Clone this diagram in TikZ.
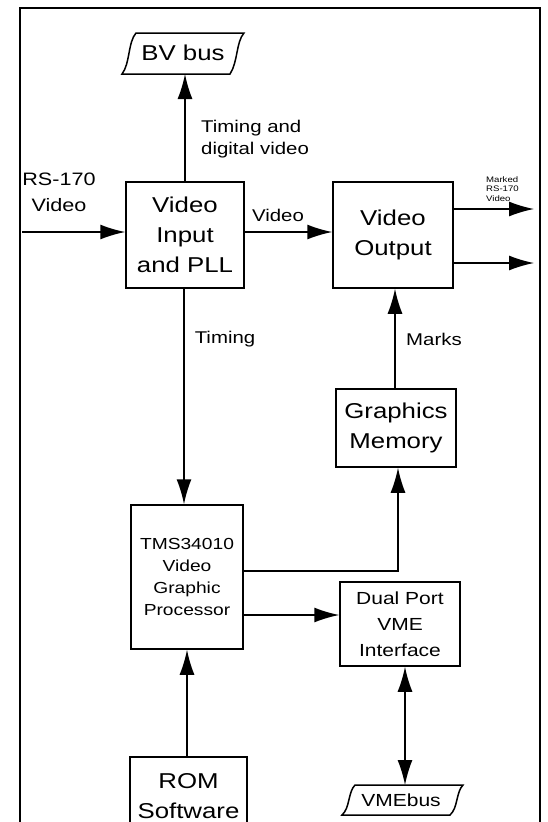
\documentclass[tikz,border=0pt]{standalone}
\usepackage{fontspec}
\setmainfont[FakeStretch=1.2]{Liberation Sans}
\usetikzlibrary{arrows.meta}

\tikzset{
  block/.style={draw, line width=1.5pt, align=center, inner sep=0pt},
  bigtxt/.style={font=\fontsize{21.5}{30}\selectfont},
  midtxt/.style={font=\fontsize{17.5}{27}\selectfont},
  smalltxt/.style={font=\fontsize{16}{22}\selectfont},
  lbl/.style={font=\fontsize{17}{22}\selectfont, align=left, inner sep=0pt},
  tip/.tip={Latex[length=25pt,width=15pt]},
  conn/.style={line width=1.5pt, -tip},
  biconn/.style={line width=1.5pt, tip-tip},
  busedge/.style={line width=1.5pt},
}

\begin{document}
\begin{tikzpicture}[x=1pt,y=-1pt]
  \useasboundingbox (0,0) rectangle (547,822);
  \clip (0,0) rectangle (547,822);

  % outer frame, open at the bottom
  \draw[line width=2.8pt] (20,840) -- (20,8) -- (540,8) -- (540,840);

  % processing blocks
  \node[block, bigtxt, minimum width=118pt, minimum height=106pt] (vin) at (185,235) {Video\\Input\\and PLL};
  \node[block, bigtxt, minimum width=120pt, minimum height=106pt] (vout) at (393,235) {Video\\Output};
  \node[block, bigtxt, minimum width=120pt, minimum height=78pt] (gmem) at (396,428) {Graphics\\Memory};
  \node[block, smalltxt, minimum width=112pt, minimum height=144pt] (tms) at (187,577) {TMS34010\\Video\\Graphic\\Processor};
  \node[block, midtxt, minimum width=120pt, minimum height=84pt, font=\fontsize{17.5}{26}\selectfont] (dport) at (400,624) {Dual Port\\VME\\Interface};
  \node[block, bigtxt, minimum width=117pt, minimum height=78pt] (rom) at (188.5,796) {ROM\\Software};

  % bus symbols
  \node[bigtxt, inner sep=0pt] (bvbus) at (183,53) {BV bus};
  \draw[busedge] (136,33) -- (244,33) .. controls (236,42) and (238,62) .. (230,74)
                 -- (122,74) .. controls (130,64) and (128,42) .. cycle;
  \coordinate (bvbot) at (185,74);

  \node[midtxt, inner sep=0pt] (vme) at (401,800) {VMEbus};
  \draw[busedge] (355,785) -- (463,785) .. controls (456,792) and (458,808) .. (450,815)
                 -- (342,815) .. controls (350,808) and (348,792) .. cycle;
  \coordinate (vmetop) at (405,785);

  % free ends and routing guides
  \coordinate (rsin) at (22,232);
  \coordinate (outA) at (534,209);
  \coordinate (outB) at (534,263);
  \coordinate (vidrow) at (0,232);
  \coordinate (timcol) at (184,0);
  \coordinate (markcol) at (395,0);
  \coordinate (gmcol) at (398,0);
  \coordinate (gmrow) at (0,571);
  \coordinate (dprow) at (0,615);
  \coordinate (romcol) at (187,0);
  \coordinate (vmecol) at (405,0);

  % connectors
  \draw[conn] (vin.north -| bvbot) -- (bvbot);
  \draw[conn] (rsin) -- (rsin -| vin.west);
  \draw[conn] (vin.east |- vidrow) -- (vout.west |- vidrow);
  \draw[conn] (vout.east |- outA) -- (outA);
  \draw[conn] (vout.east |- outB) -- (outB);
  \draw[conn] (vin.south -| timcol) -- (tms.north -| timcol);
  \draw[conn] (gmem.north -| markcol) -- (vout.south -| markcol);
  \draw[conn] (tms.east |- gmrow) -| (gmem.south -| gmcol);
  \draw[conn] (tms.east |- dprow) -- (dport.west |- dprow);
  \draw[conn] (rom.north -| romcol) -- (tms.south -| romcol);
  \draw[biconn] (dport.south -| vmecol) -- (vmetop);

  % labels
  \node[lbl, anchor=north west] (lblA) at (201,120) {Timing and\\digital video};
  \node[lbl, font=\fontsize{18}{26}\selectfont, align=center, anchor=north] (lblB) at (59,173) {RS-170\\Video};
  \node[lbl, anchor=center] (lblC) at (278,215) {Video};
  \node[lbl, font=\fontsize{8}{9.5}\selectfont, anchor=north west] (lblD) at (486,176) {Marked\\RS-170\\Video};
  \node[lbl, anchor=center] (lblE) at (225,339) {Timing};
  \node[lbl, anchor=center] (lblF) at (434,339) {Marks};
\end{tikzpicture}
\end{document}
